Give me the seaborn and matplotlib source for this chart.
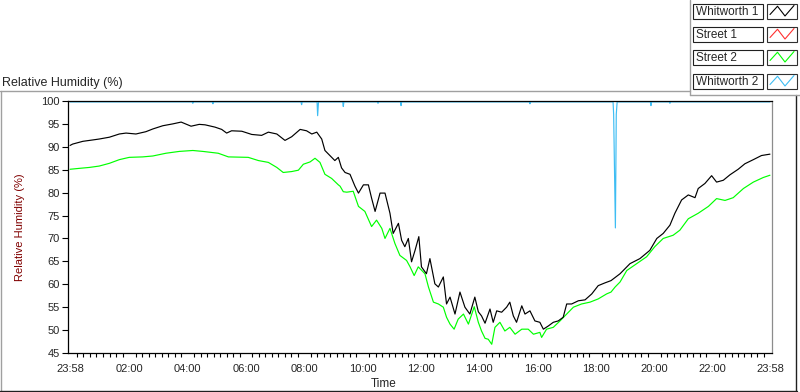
import pandas as pd
import seaborn as sns
from matplotlib import pyplot as plt
from matplotlib.lines import Line2D
from matplotlib.patches import Rectangle
from matplotlib.ticker import FixedLocator

# time axis is in hours after the 23:58 start of the record
w1_hours = [0.00, 0.09, 0.44, 0.78, 1.00, 1.35, 1.69, 1.92, 2.26, 2.60, 2.84, 3.18, 3.52, 3.81,
            4.15, 4.43, 4.63, 4.97, 5.20, 5.37, 5.54, 5.89, 6.23, 6.57, 6.80, 7.09, 7.37, 7.60,
            7.89, 8.11, 8.29, 8.46, 8.63, 8.74, 8.91, 9.08, 9.20, 9.31, 9.43, 9.60, 9.77, 9.89,
            10.06, 10.23, 10.34, 10.46, 10.63, 10.80, 10.97, 11.08, 11.26, 11.37, 11.48, 11.60,
            11.71, 11.83, 11.96, 12.05, 12.22, 12.34, 12.51, 12.63, 12.80, 12.91, 13.03, 13.20,
            13.37, 13.54, 13.71, 13.88, 14.00, 14.11, 14.23, 14.40, 14.51, 14.63, 14.80, 14.97,
            15.08, 15.20, 15.31, 15.49, 15.60, 15.77, 15.94, 16.11, 16.23, 16.40, 16.57, 16.74,
            16.91, 17.03, 17.20, 17.43, 17.66, 17.89, 18.11, 18.34, 18.55, 18.86, 19.20, 19.54,
            19.88, 20.12, 20.34, 20.57, 20.74, 20.97, 21.20, 21.43, 21.54, 21.77, 22.00, 22.17,
            22.40, 22.63, 22.91, 23.14, 23.43, 23.71, 24.00]
w1_rh = [90.3, 90.6, 91.2, 91.5, 91.7, 92.1, 92.8, 93.0, 92.8, 93.3, 93.9, 94.6, 95.0, 95.4,
         94.5, 94.9, 94.8, 94.3, 93.8, 93.0, 93.5, 93.4, 92.7, 92.5, 93.2, 92.8, 91.4, 92.2,
         93.8, 93.5, 92.8, 93.2, 91.7, 89.2, 88.1, 87.0, 87.7, 85.4, 84.4, 84.0, 81.4, 79.9,
         81.7, 81.7, 78.8, 75.9, 79.9, 79.9, 75.5, 71.1, 73.3, 69.6, 68.2, 70.0,
         64.9, 67.4, 70.4, 63.8, 62.3, 65.6, 60.1, 59.4, 61.6, 55.7, 57.2, 53.5,
         58.3, 55.0, 53.5, 57.2, 54.0, 53.1, 51.5, 54.6, 51.7, 54.2, 53.9, 55.0,
         56.1, 53.1, 51.7, 55.3, 53.5, 54.2, 52.0, 51.7, 50.2, 50.9, 51.7, 52.0,
         52.8, 55.7, 55.7, 56.4, 56.6, 57.9, 59.7, 60.3, 60.8, 62.3, 64.5, 65.6,
         67.4, 70.0, 71.1, 72.9, 75.5, 78.4, 79.5, 78.9, 80.9, 82.0, 83.7, 82.3,
         82.7, 83.9, 85.1, 86.3, 87.2, 88.1, 88.4]

s2_hours = [0.00, 0.32, 0.66, 1.00, 1.35, 1.69, 2.03, 2.49, 2.84, 3.29, 3.75, 4.21, 4.55, 5.08,
            5.43, 6.11, 6.46, 6.80, 7.09, 7.31, 7.60, 7.83, 8.00, 8.23, 8.40, 8.57, 8.74, 8.97,
            9.20, 9.26, 9.37, 9.49, 9.71, 9.89, 10.11, 10.34, 10.51, 10.69, 10.80, 10.97, 11.14,
            11.31, 11.54, 11.66, 11.80, 11.94, 12.17, 12.29, 12.46, 12.63, 12.80, 12.91, 13.03,
            13.17, 13.31, 13.49, 13.66, 13.86, 14.00, 14.11, 14.23, 14.34, 14.46, 14.57, 14.74,
            14.91, 15.08, 15.26, 15.49, 15.71, 15.89, 16.11, 16.17, 16.34, 16.57, 16.80, 17.03,
            17.26, 17.54, 17.83, 18.11, 18.40, 18.55, 18.69, 18.86, 19.09, 19.43, 19.77, 20.05,
            20.34, 20.68, 20.91, 21.20, 21.54, 21.89, 22.17, 22.46, 22.74, 23.09, 23.43, 23.77,
            24.00]
s2_rh = [85.1, 85.3, 85.5, 85.8, 86.4, 87.2, 87.7, 87.8, 88.0, 88.6, 89.0, 89.2, 89.0, 88.6,
         87.8, 87.7, 87.0, 86.6, 85.5, 84.4, 84.6, 84.9, 86.2, 86.7, 87.5, 86.6, 84.0, 83.1,
         81.7, 81.4, 80.2, 80.1, 80.3, 77.0, 75.9, 72.6, 74.0, 72.2, 70.0, 72.2, 68.9,
         66.3, 65.2, 63.8, 61.9, 63.8, 62.3, 59.4, 56.1, 55.7, 55.0, 52.8, 51.3,
         50.2, 52.4, 53.5, 51.3, 55.1, 51.7, 49.8, 48.2, 48.0, 46.9, 50.6, 51.7,
         49.8, 50.6, 49.1, 50.2, 50.2, 49.1, 49.5, 48.4, 50.2, 50.6, 52.0, 53.5,
         55.0, 55.7, 56.1, 56.8, 57.9, 58.3, 59.4, 60.5, 63.0, 64.5, 66.0, 68.2,
         70.0, 70.7, 71.8, 74.3, 75.5, 77.0, 78.7, 78.3, 78.9, 80.9, 82.3, 83.3,
         83.8]

w2_hours = [0.00, 4.19, 4.21, 4.23, 4.88, 4.90, 4.92, 7.92, 7.94, 7.96, 8.47, 8.49, 8.52,
            9.35, 9.37, 9.39, 10.54, 10.56, 10.58, 11.33, 11.35, 11.37, 15.75, 15.77, 15.79,
            18.62, 18.64, 18.70, 18.73, 18.76, 19.90, 19.92, 19.94, 20.55, 20.57, 20.59, 24.00]
w2_rh = [99.8, 99.8, 99.5, 99.8, 99.8, 99.4, 99.8, 99.8, 99.2, 99.8, 99.8, 96.8, 99.8,
         99.8, 98.8, 99.8, 99.8, 99.5, 99.8, 99.8, 99.0, 99.8, 99.8, 99.4, 99.8,
         99.8, 97.1, 72.3, 97.1, 99.8, 99.8, 99.0, 99.8, 99.8, 99.5, 99.8, 99.8]

# Street 1 has no readings in this window, it only appears in the legend
sensors = ["Whitworth 1", "Street 1", "Street 2", "Whitworth 2"]
palette = {"Whitworth 1": "#000000", "Street 1": "#ff3030",
           "Street 2": "#00ff00", "Whitworth 2": "#3ebdf3"}

tick_hours = [0.0] + [h + 2 / 60 for h in range(2, 24, 2)] + [24.0]
tick_labels = ["23:58", "02:00", "04:00", "06:00", "08:00", "10:00", "12:00",
               "14:00", "16:00", "18:00", "20:00", "22:00", "23:58"]

W, H = 800, 392


def px(x, y):
    # pixel position (from top left) -> figure fraction
    return x / W, 1 - y / H


df = pd.concat([
    pd.DataFrame({"hours": w1_hours, "rh": w1_rh, "sensor": "Whitworth 1"}),
    pd.DataFrame({"hours": s2_hours, "rh": s2_rh, "sensor": "Street 2"}),
    pd.DataFrame({"hours": w2_hours, "rh": w2_rh, "sensor": "Whitworth 2"}),
], ignore_index=True)

sns.set_style("white")
plt.rcParams['font.family'] = ['Liberation Sans', 'DejaVu Sans']

fig = plt.figure(figsize=(W / 100, H / 100), dpi=100)
ax = fig.add_axes([68 / W, 1 - 353 / H, 704 / W, 252 / H])

sns.lineplot(data=df, x="hours", y="rh", hue="sensor", palette=palette,
             hue_order=["Street 2", "Whitworth 1", "Whitworth 2"],
             estimator=None, legend=False, linewidth=0.85, ax=ax)

ax.set_xlim(-0.07, 24.07)
ax.set_ylim(45, 100)

# ticks
ax.set_xticks(tick_hours)
ax.set_xticklabels(tick_labels)
minor = []
for a, b in zip(tick_hours[:-1], tick_hours[1:]):
    step = (b - a) / 9
    minor += [a + step * i for i in range(1, 9)]
ax.xaxis.set_minor_locator(FixedLocator(minor))
ax.set_yticks(range(45, 101, 5))
ax.tick_params(axis="x", which="major", direction="out", length=5, width=1.6,
               color="black", labelsize=8, pad=3)
ax.tick_params(axis="x", which="minor", direction="out", length=3, width=0.8,
               color="black", bottom=True)
ax.tick_params(axis="y", which="major", direction="out", length=4, width=0.8,
               color="black", labelsize=8, pad=2, left=True)

for side in ["left", "bottom", "top"]:
    ax.spines[side].set_color("black")
    ax.spines[side].set_linewidth(0.9)
ax.spines["right"].set_color("#8c8c8c")
ax.spines["right"].set_linewidth(0.9)

ax.set_xlabel("")
ax.set_ylabel("")
fig.text(*px(20, 227), "Relative Humidity (%)", rotation=90, ha="center", va="center",
         fontsize=8, color="#800000")
fig.text(*px(384, 384), "Time", ha="center", va="center", fontsize=8.5)
fig.text(*px(2, 83), "Relative Humidity (%)", ha="left", va="center", fontsize=9)

# panel frame around the graph
frame = [((0, 91), (690, 91), "#a0a0a0"), ((0.5, 91), (0.5, 391), "#a0a0a0"),
         ((0, 391), (797, 391), "#202020"), ((796, 95), (796, 391), "#202020"),
         ((690, 0), (690, 95), "#a0a0a0"), ((690, 95), (800, 95), "#a0a0a0")]
for p0, p1, c in frame:
    x0, y0 = px(*p0)
    x1, y1 = px(*p1)
    fig.add_artist(Line2D([x0, x1], [y0, y1], color=c, lw=1.0, transform=fig.transFigure))

# plot legend, one text box and one swatch per sensor
row_tops = [4, 27, 50, 74]
zig = [(0.1, 0.3), (0.35, 0.85), (0.6, 0.2), (0.9, 0.9)]
for name, top in zip(sensors, row_tops):
    bx, by = px(693, top + 15)
    fig.add_artist(Rectangle((bx, by), 70 / W, 15 / H, transform=fig.transFigure,
                             facecolor="white", edgecolor="#202020", lw=0.8))
    fig.text(*px(696, top + 8), name, ha="left", va="center", fontsize=8.5)
    sx, sy = px(767, top + 15)
    fig.add_artist(Rectangle((sx, sy), 30 / W, 15 / H, transform=fig.transFigure,
                             facecolor="white", edgecolor="#303030", lw=0.8))
    zx = [sx + u * 30 / W for u, v in zig]
    zy = [sy + v * 15 / H for u, v in zig]
    fig.add_artist(Line2D(zx, zy, color=palette[name], lw=0.8, transform=fig.transFigure))

fig.savefig("out.png", dpi=100)
